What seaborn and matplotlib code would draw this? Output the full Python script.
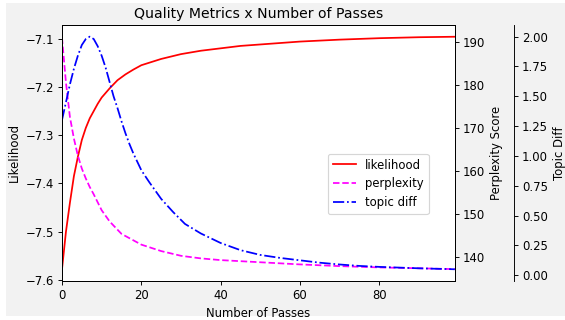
import pandas as pd
import matplotlib
matplotlib.use('Agg')
import matplotlib.pyplot as plt
from matplotlib.patches import Rectangle
import seaborn as sns

# =====================
# Data
# =====================

lik_passes = [0, 1, 2, 3, 4, 5, 6, 7, 8, 9, 10, 12, 14, 16, 18, 20, 25, 30, 35,
              40, 45, 50, 60, 70, 80, 90, 99]
likelihood = [-7.578, -7.50, -7.44, -7.385, -7.345, -7.31, -7.285, -7.265, -7.25,
              -7.235, -7.222, -7.203, -7.186, -7.174, -7.164, -7.155, -7.142,
              -7.132, -7.125, -7.12, -7.115, -7.112, -7.106, -7.102, -7.099,
              -7.097, -7.096]

perp_passes = [0, 1, 2, 3, 4, 5, 6, 7, 8, 10, 12, 15, 20, 25, 30, 35, 40, 50, 60,
               70, 80, 90, 99]
perplexity = [191.0, 180.5, 172.5, 167.5, 163.5, 160.5, 158.2, 156.2, 154.5,
              150.8, 148.2, 145.3, 142.8, 141.3, 140.2, 139.6, 139.2, 138.7,
              138.2, 137.8, 137.5, 137.3, 137.1]

diff_passes = [0, 1, 2, 3, 4, 5, 6, 7, 8, 9, 10, 11, 12, 13, 14, 15, 16, 17, 18,
               20, 22, 25, 28, 31, 35, 40, 45, 50, 55, 60, 65, 70, 75, 80, 90, 99]
topic_diff = [1.30, 1.45, 1.60, 1.73, 1.84, 1.93, 1.98, 2.00, 1.98, 1.92, 1.84,
              1.74, 1.62, 1.50, 1.40, 1.29, 1.19, 1.10, 1.02, 0.88, 0.78, 0.64,
              0.53, 0.43, 0.35, 0.27, 0.21, 0.17, 0.145, 0.125, 0.105, 0.09,
              0.078, 0.07, 0.058, 0.05]

df_lik = pd.DataFrame({'passes': lik_passes, 'value': likelihood})
df_perp = pd.DataFrame({'passes': perp_passes, 'value': perplexity})
df_diff = pd.DataFrame({'passes': diff_passes, 'value': topic_diff})

# =====================
# Plot
# =====================

plt.rcParams['font.family'] = ['DejaVu Sans']

DPI = 84
fig = plt.figure(figsize=(565 / DPI, 320 / DPI), dpi=DPI, facecolor='white')
# screenshot-like grey canvas with a thin white border left/top/bottom
fig.patches.append(Rectangle((6 / 565, 4 / 320), 1, 313 / 320,
                             transform=fig.transFigure, facecolor='#f2f2f2',
                             edgecolor='none', zorder=-10))

ax = fig.add_axes([0.1097, 0.122, 0.6953, 0.800])
ax2 = ax.twinx()
ax3 = ax.twinx()
ax3.spines['right'].set_position(('axes', 1.15))

sns.lineplot(data=df_lik, x='passes', y='value', ax=ax, color='red',
             linestyle='-', label='likelihood', legend=False)
sns.lineplot(data=df_perp, x='passes', y='value', ax=ax2, color='magenta',
             linestyle='--', label='perplexity', legend=False)
sns.lineplot(data=df_diff, x='passes', y='value', ax=ax3, color='blue',
             linestyle='-.', label='topic diff', legend=False)

ax.set_xlim(0, 99)
ax.set_ylim(-7.602, -7.0716)
ax2.set_ylim(134.35, 193.9)
ax3.set_ylim(-0.048, 2.098)

ax.set_xticks([0, 20, 40, 60, 80])
ax3.set_yticks([0, 0.25, 0.5, 0.75, 1.0, 1.25, 1.5, 1.75, 2.0])

ax.set_title('Quality Metrics x Number of Passes')
ax.set_xlabel('Number of Passes')
ax.set_ylabel('Likelihood')
ax2.set_ylabel('Perplexity Score')
ax3.set_ylabel('Topic Diff')

handles = []
labels = []
for a in (ax, ax2, ax3):
    h, l = a.get_legend_handles_labels()
    handles += h
    labels += l
ax3.legend(handles, labels, loc='lower left', bbox_to_anchor=(0.677, 0.262),
           borderaxespad=0)

fig.savefig('out.png', dpi=DPI)
